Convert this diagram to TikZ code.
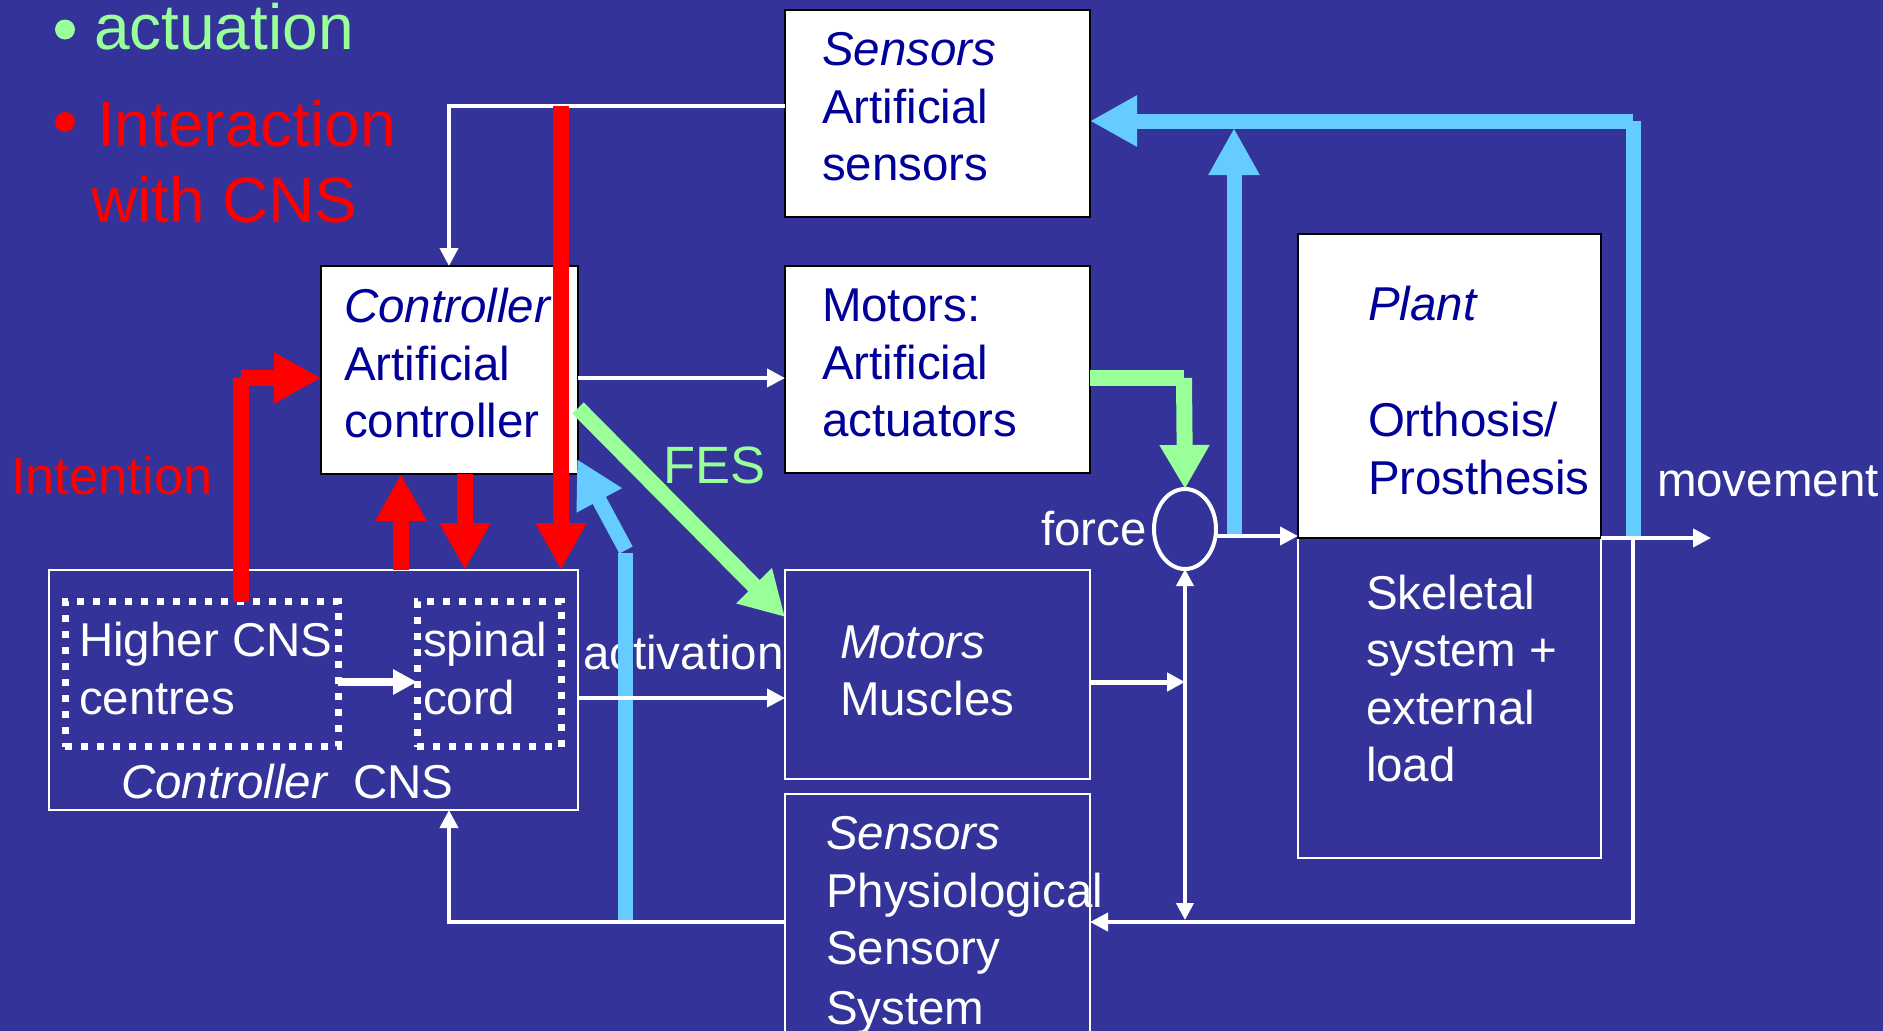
\documentclass[tikz,border=0pt]{standalone}
\usepackage{fontspec}
\setmainfont{Liberation Sans}
\usetikzlibrary{arrows.meta,calc,shapes.geometric}
\definecolor{slide}{RGB}{51,51,153}
\definecolor{navytxt}{RGB}{0,0,153}
\definecolor{sky}{RGB}{102,204,255}
\definecolor{mint}{RGB}{153,255,153}
\definecolor{signalred}{RGB}{255,0,0}

\begin{document}
\begin{tikzpicture}[x=1pt,y=-1pt,
  lbl/.style={anchor=base west, inner sep=0pt, outer sep=0pt, font=\fontsize{47.5}{57}\selectfont},
  big/.style={anchor=base west, inner sep=0pt, outer sep=0pt, font=\fontsize{52.5}{62}\selectfont},
  huge/.style={anchor=base west, inner sep=0pt, outer sep=0pt, font=\fontsize{64}{75}\selectfont},
  boxbase/.style={rectangle, inner sep=0pt, outer sep=0pt},
  whitebox/.style={boxbase, fill=white, draw=black, line width=2pt},
  openbox/.style={boxbase, draw=white, line width=2.5pt},
  dotbox/.style={boxbase, draw=white, line width=7pt, dash pattern=on 7pt off 9pt},
  warrow/.style={draw=white, line width=4pt, -{Triangle[length=18pt,width=18pt]}},
  wboth/.style={draw=white, line width=4pt, {Triangle[length=17pt,width=17pt]}-{Triangle[length=17pt,width=17pt]}},
  redline/.style={draw=signalred, line width=16pt},
  blueline/.style={draw=sky, line width=15pt},
  greenline/.style={draw=mint, line width=16pt},
  bigred/.style={redline, -{Triangle[length=47pt,width=48pt]}},
  bigblue/.style={blueline, -{Triangle[length=47pt,width=48pt]}},
  biggreen/.style={greenline, -{Triangle[length=44pt,width=47pt]}}
]
\clip (0,0) rectangle (1883,1031);
\fill[slide] (0,0) rectangle (1883,1031);

% ---- bullet list ----
\node[circle, fill=mint, minimum size=20pt, inner sep=0pt] (bul1) at (65,29.5) {};
\node[huge, text=mint] (bact) at (94,49) {actuation};
\node[circle, fill=signalred, minimum size=20pt, inner sep=0pt] (bul2) at (65,122) {};
\node[huge, text=signalred] (binter) at (97,146) {Interaction};
\node[huge, text=signalred] (bwith) at (91,222) {with CNS};

% ---- blocks ----
\node[whitebox, minimum width=257pt, minimum height=208pt] (actrl) at (449.5,370) {};
\node[whitebox, minimum width=305pt, minimum height=207pt] (sens) at (937.5,113.5) {};
\node[whitebox, minimum width=305pt, minimum height=207pt] (motA) at (937.5,369.5) {};
\node[openbox, minimum width=303pt, minimum height=320pt] (skel) at (1449.5,698) {};
\node[whitebox, minimum width=303pt, minimum height=304pt] (plant) at (1449.5,386) {};
\node[openbox, minimum width=305pt, minimum height=209pt] (musc) at (937.5,674.5) {};
\node[openbox, minimum width=305pt, minimum height=300pt] (phys) at (937.5,944) {};
\node[openbox, minimum width=529pt, minimum height=240pt] (cns) at (313.5,690) {};
\node[dotbox, minimum width=273pt, minimum height=145pt] (hcns) at (201.5,674) {};
\node[dotbox, minimum width=144pt, minimum height=145pt] (spin) at (489,674) {};
\node[ellipse, draw=white, line width=4pt, inner sep=0pt, outer sep=0pt,
      minimum width=62pt, minimum height=80pt] (sum) at (1185,529) {};

% ---- block texts ----
\node[lbl, text=navytxt] (ac1) at (344,322) {\itshape Controller};
\node[lbl, text=navytxt] (ac2) at (344,380) {Artificial};
\node[lbl, text=navytxt] (ac3) at (344,437) {controller};

\node[lbl, text=navytxt] (se1) at (822,65) {\itshape Sensors};
\node[lbl, text=navytxt] (se2) at (822,123) {Artificial};
\node[lbl, text=navytxt] (se3) at (822,180) {sensors};

\node[lbl, text=navytxt] (ma1) at (822,321) {Motors:};
\node[lbl, text=navytxt] (ma2) at (822,379) {Artificial};
\node[lbl, text=navytxt] (ma3) at (822,436) {actuators};

\node[lbl, text=navytxt] (pl1) at (1368,320) {\itshape Plant};
\node[lbl, text=navytxt] (pl2) at (1368,436) {Orthosis/};
\node[lbl, text=navytxt] (pl3) at (1368,494) {Prosthesis};

\node[lbl, text=white] (sk1) at (1366,609) {Skeletal};
\node[lbl, text=white] (sk2) at (1366,666) {system +};
\node[lbl, text=white] (sk3) at (1366,724) {external};
\node[lbl, text=white] (sk4) at (1366,781) {load};

\node[lbl, text=white] (mu1) at (840,658) {\itshape Motors};
\node[lbl, text=white] (mu2) at (840,715) {Muscles};

\node[lbl, text=white] (ph1) at (826,849) {\itshape Sensors};
\node[lbl, text=white] (ph2) at (826,907) {Physiological};
\node[lbl, text=white] (ph3) at (826,964) {Sensory};
\node[lbl, text=white] (ph4) at (826,1024) {System};

\node[lbl, text=white] (hc1) at (79,656) {Higher CNS};
\node[lbl, text=white] (hc2) at (79,714) {centres};
\node[lbl, text=white] (sp1) at (423,656) {spinal};
\node[lbl, text=white] (sp2) at (423,714) {cord};
\node[lbl, text=white] (cn1) at (121,798) {\itshape Controller};
\node[lbl, text=white] (cn2) at (353,798) {CNS};

\node[lbl, text=white] (tact) at (583,669) {activation};
\node[lbl, text=white] (tforce) at (1041,545) {force};
\node[lbl, text=white] (tmove) at (1657,496) {movement};
\node[big, text=mint] (tfes) at (663,483) {FES};
\node[big, text=signalred] (tint) at (11,494) {Intention};

% ---- tap points and bends on the signal lines ----
\coordinate (tapR) at (1633,538);
\coordinate (fbTop) at (1234,128);
\coordinate (fbLow) at (625,921);
\coordinate (fbBend) at (625,553);
\coordinate (senTap) at (561,106);
\coordinate (intBend) at (241,378);
\coordinate (actBend) at (1184,378);
\coordinate (fbCorner) at (1633,121);

% ---- sensory feedback (blue) ----
\draw[blueline] (tapR) -- (fbCorner);
\draw[bigblue] (fbCorner) -- (sens.east |- fbCorner);
\draw[bigblue] (fbTop |- 0,536) -- (fbTop);
\draw[blueline] (fbLow) -- (fbBend);
\draw[bigblue] ($(fbBend)+(1,-3)$) -- ($(actrl.south east)+(-1,-15)$);

% ---- thin signal lines (white) ----
\draw[warrow] (sens.west |- senTap) -- (449,106) -- (449,0 |- actrl.north);
\draw[warrow] (actrl.east |- 0,378) -- (motA.west |- 0,378);
\draw[warrow] (cns.east |- 0,698) -- (musc.west |- 0,698);
\draw[warrow, line width=5pt] (musc.east |- 0,682) -- (sum |- 0,682);
\draw[wboth] (sum.south) -- (sum |- 0,920);
\draw[warrow] (sum.east |- 0,536) -- (plant.west |- 0,536);
\draw[warrow] (plant.south east) -- (1711,538);
\draw[warrow] (tapR) -- (tapR |- 0,922) -- (phys.east |- 0,922);
\draw[warrow] (phys.west |- 0,922) -- (449,922) -- (449,0 |- cns.south);
\draw[draw=white, line width=8pt, -{Triangle[length=24pt,width=24pt]}]
  (hcns.east |- 0,682) -- (spin.west |- 0,682);

% ---- actuation (green) ----
\draw[biggreen] (actrl.east |- 0,408) -- ($(musc.north west)+(0,47)$);
\draw[greenline] (motA.east |- actBend) -- (actBend);
\draw[biggreen] (actBend) -- (sum.north);

% ---- interaction with the CNS (red) ----
\draw[redline] (intBend |- hcns.north) -- (intBend);
\draw[bigred] (intBend) -- (actrl.west |- intBend);
\draw[bigred] (401,0 |- cns.north) -- (401,0 |- actrl.south);
\draw[bigred] (465,0 |- actrl.south) -- (465,0 |- cns.north);
\draw[bigred] (senTap) -- (senTap |- cns.north);
\end{tikzpicture}
\end{document}
